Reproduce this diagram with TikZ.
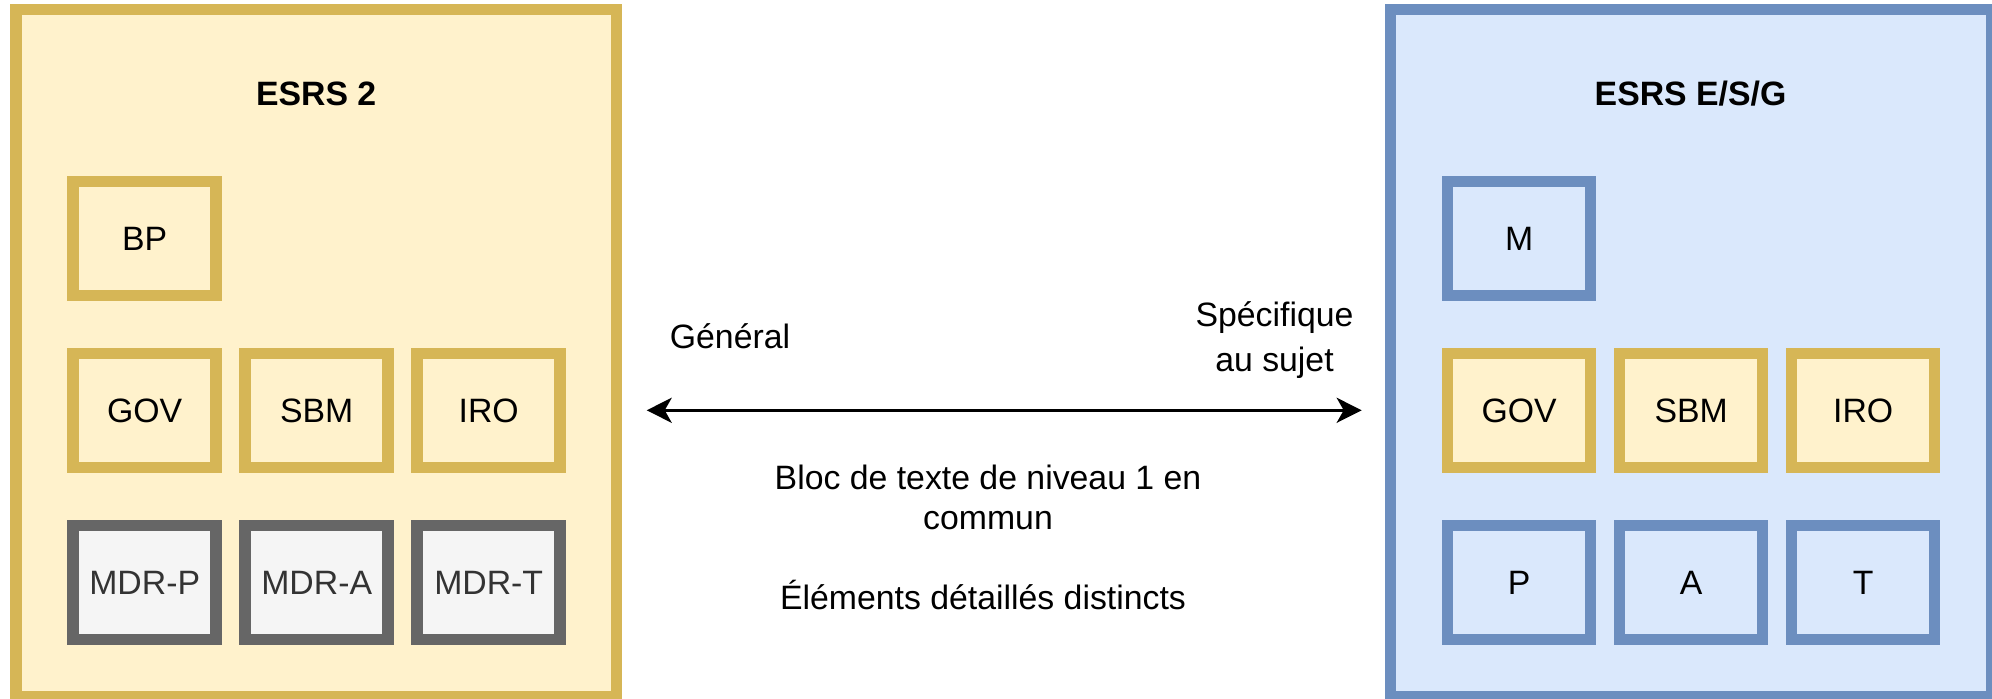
\documentclass[tikz,border=0pt]{standalone}
\usepackage{fontspec}
\setmainfont{Liberation Sans}
\usetikzlibrary{arrows.meta}
\definecolor{yfill}{HTML}{FFF2CC}
\definecolor{ydraw}{HTML}{D6B656}
\definecolor{bfill}{HTML}{DAE8FC}
\definecolor{bdraw}{HTML}{6C8EBF}
\definecolor{gfill}{HTML}{F5F5F5}
\definecolor{gdraw}{HTML}{666666}
\definecolor{gtext}{HTML}{333333}
\begin{document}
\begin{tikzpicture}[x=0.5pt,y=-0.5pt,
  every node/.style={font=\fontsize{16.9}{22.25}\selectfont, inner sep=0pt, outer sep=0pt},
  panel/.style={draw, line width=5.75pt, minimum width=300.4pt, minimum height=343.4pt},
  ypanel/.style={panel, draw=ydraw, fill=yfill},
  bpanel/.style={panel, draw=bdraw, fill=bfill},
  cell/.style={draw, line width=5.75pt, minimum width=71.5pt, minimum height=57pt},
  ycell/.style={cell, draw=ydraw, fill=yfill},
  bcell/.style={cell, draw=bdraw, fill=bfill},
  gcell/.style={cell, draw=gdraw, fill=gfill, text=gtext},
  paneltitle/.style={font=\fontsize{16.9}{22.25}\selectfont\bfseries, anchor=base},
  lbl/.style={anchor=base, align=center},
  arr/.style={line width=1.65pt,
    {Stealth[length=12.5pt,width=12.5pt,inset=3.5pt]}-{Stealth[length=12.5pt,width=12.5pt,inset=3.5pt]}}
]
\useasboundingbox (0,0) rectangle (1992,699);

% panels
\node[ypanel] (left) at (316.2,353.1) {};
\node[bpanel] (right) at (1690.9,353.1) {};

\node[paneltitle] (t2) at (316.2,106) {ESRS 2};
\node[paneltitle] (tesg) at (1690.5,105.5) {ESRS E/S/G};

% left cells
\node[ycell] (bp) at (144.7,238.7) {BP};
\node[ycell] (gov1) at (144.7,410.7) {GOV};
\node[ycell] (sbm1) at (316.7,410.7) {SBM};
\node[ycell] (iro1) at (488.7,410.7) {IRO};
\node[gcell] (mdrp) at (144.7,582.7) {MDR-P};
\node[gcell] (mdra) at (316.7,582.7) {MDR-A};
\node[gcell] (mdrt) at (488.7,582.7) {MDR-T};

% right cells
\node[bcell] (m) at (1519.2,238.7) {M};
\node[ycell] (gov2) at (1519.2,410.7) {GOV};
\node[ycell] (sbm2) at (1691.2,410.7) {SBM};
\node[ycell] (iro2) at (1863.2,410.7) {IRO};
\node[bcell] (p) at (1519.2,582.7) {P};
\node[bcell] (a) at (1691.2,582.7) {A};
\node[bcell] (t) at (1863.2,582.7) {T};

% middle labels (base anchor = baseline of the last line)
\node[lbl] (gen) at (730,348.3) {Général};
\node[lbl] (spec) at (1274.5,371.5) {Spécifique\\au sujet};
\node[lbl, font=\fontsize{16.9}{20}\selectfont] (bloc) at (988,529.5) {Bloc de texte de niveau 1 en\\commun};
\node[lbl] (elem) at (983,610) {Éléments détaillés distincts};

% arrow
\coordinate (aL) at (646.7,410.3);
\coordinate (aR) at (1361.7,410.3);
\draw[arr] (aL) -- (aR);
\end{tikzpicture}
\end{document}
